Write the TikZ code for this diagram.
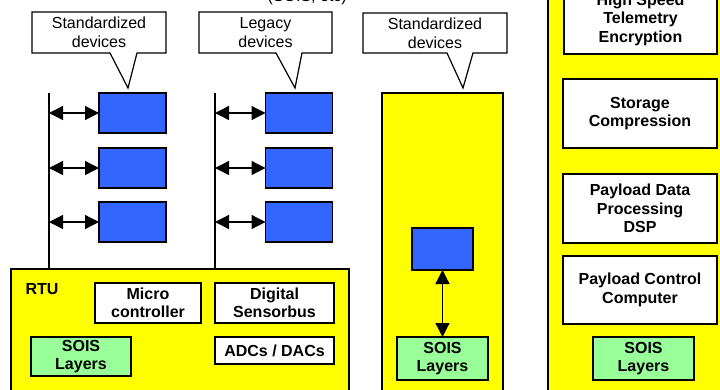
\documentclass[tikz,border=0pt]{standalone}
\usepackage{fontspec}
\setmainfont{Liberation Sans}
\usetikzlibrary{arrows.meta}
\definecolor{panelyellow}{HTML}{FFFF00}
\definecolor{devblue}{HTML}{3366FF}
\definecolor{soisgreen}{HTML}{99FF99}
\begin{document}
\begin{tikzpicture}[x=1pt,y=-1pt,
  panel/.style={draw=black,line width=1.5pt,fill=panelyellow,inner sep=0pt,outer sep=0pt},
  wbox/.style={draw=black,line width=1.5pt,fill=white,inner sep=0pt,outer sep=0pt,align=center,font=\fontsize{16}{18.5}\selectfont\bfseries},
  gbox/.style={wbox,fill=soisgreen},
  dev/.style={draw=black,line width=1.5pt,fill=devblue,inner sep=0pt,outer sep=0pt,minimum width=67pt,minimum height=40pt},
  callout/.style={draw=black,line width=1.2pt,fill=white,line join=miter},
  ctext/.style={align=center,font=\fontsize{16}{19}\selectfont,inner sep=0pt},
  link/.style={line width=1.3pt,{Triangle[length=14pt,width=14pt]}-{Triangle[length=14pt,width=14pt]}},
  bus/.style={line width=1.2pt}]
\useasboundingbox (0,0) rectangle (720,389);
\clip (0,0) rectangle (720,389);

% clipped heading at top
\node[anchor=base east,font=\fontsize{16}{19}\selectfont,inner sep=0pt] (note) at (347,1) {(SOIS, etc)};

% panels
\node[panel,minimum width=338pt,minimum height=131pt] (rtu) at (180,334.5) {};
\node[panel,minimum width=121pt,minimum height=307pt] (mid) at (442.5,246.5) {};
\node[panel,minimum width=187pt,minimum height=410pt] (right) at (641.5,195) {};

% callouts
\draw[callout] (32,12) -- (166,12) -- (166,53) -- (137,53) -- (128,88) -- (110,53) -- (32,53) -- cycle;
\node[ctext] (c1) at (99,32.5) {Standardized\\devices};
\draw[callout] (199,12) -- (332,12) -- (332,53) -- (302,53) -- (295,88) -- (276,53) -- (199,53) -- cycle;
\node[ctext] (c2) at (265.5,32.5) {Legacy\\devices};
\draw[callout] (363,13) -- (507,13) -- (507,53) -- (473,53) -- (463,88) -- (447,53) -- (363,53) -- cycle;
\node[ctext] (c3) at (435,33) {Standardized\\devices};

% device boxes
\node[dev] (a1) at (132.5,113) {};
\node[dev] (a2) at (132.5,168) {};
\node[dev] (a3) at (132.5,222) {};
\node[dev] (b1) at (299,113) {};
\node[dev] (b2) at (299,168) {};
\node[dev] (b3) at (299,222) {};

% buses
\coordinate (busA) at (49,93);
\coordinate (busB) at (215,93);
\draw[bus] (busA) -- (busA |- rtu.north);
\draw[bus] (busB) -- (busB |- rtu.north);
\foreach \d in {a1,a2,a3} \draw[link] (busA |- \d.west) -- (\d.west);
\foreach \d in {b1,b2,b3} \draw[link] (busB |- \d.west) -- (\d.west);

% RTU contents
\node[font=\fontsize{16}{18.5}\selectfont\bfseries,inner sep=0pt] (rtulabel) at (42,289) {RTU};
\node[wbox,minimum width=106pt,minimum height=40pt] (micro) at (148,303) {Micro\\controller};
\node[wbox,minimum width=119pt,minimum height=40pt] (dsb) at (274.5,303) {Digital\\Sensorbus};
\node[gbox,minimum width=100pt,minimum height=39pt] (sois1) at (81,356.5) {SOIS\\Layers};
\node[wbox,minimum width=119pt,minimum height=27pt] (adc) at (274.5,350.5) {ADCs / DACs};

% middle panel contents
\node[dev,minimum width=61pt,minimum height=42pt] (mdev) at (442.5,249) {};
\node[gbox,minimum width=91pt,minimum height=43pt] (sois2) at (442.5,358.5) {SOIS\\Layers};
\draw[link] (mdev.south) -- (sois2.north);

% right panel contents
\node[wbox,minimum width=153pt,minimum height=69pt] (hst) at (640.5,19.5) {High Speed\\Telemetry\\Encryption};
\node[wbox,minimum width=154pt,minimum height=69pt] (stor) at (640,113.5) {Storage\\Compression};
\node[wbox,minimum width=154pt,minimum height=69pt] (pdp) at (640,208.5) {Payload Data\\Processing\\DSP};
\node[wbox,minimum width=154pt,minimum height=68pt] (pcc) at (640,290) {Payload Control\\Computer};
\node[gbox,minimum width=101pt,minimum height=43pt] (sois3) at (643.5,358.5) {SOIS\\Layers};
\end{tikzpicture}
\end{document}
